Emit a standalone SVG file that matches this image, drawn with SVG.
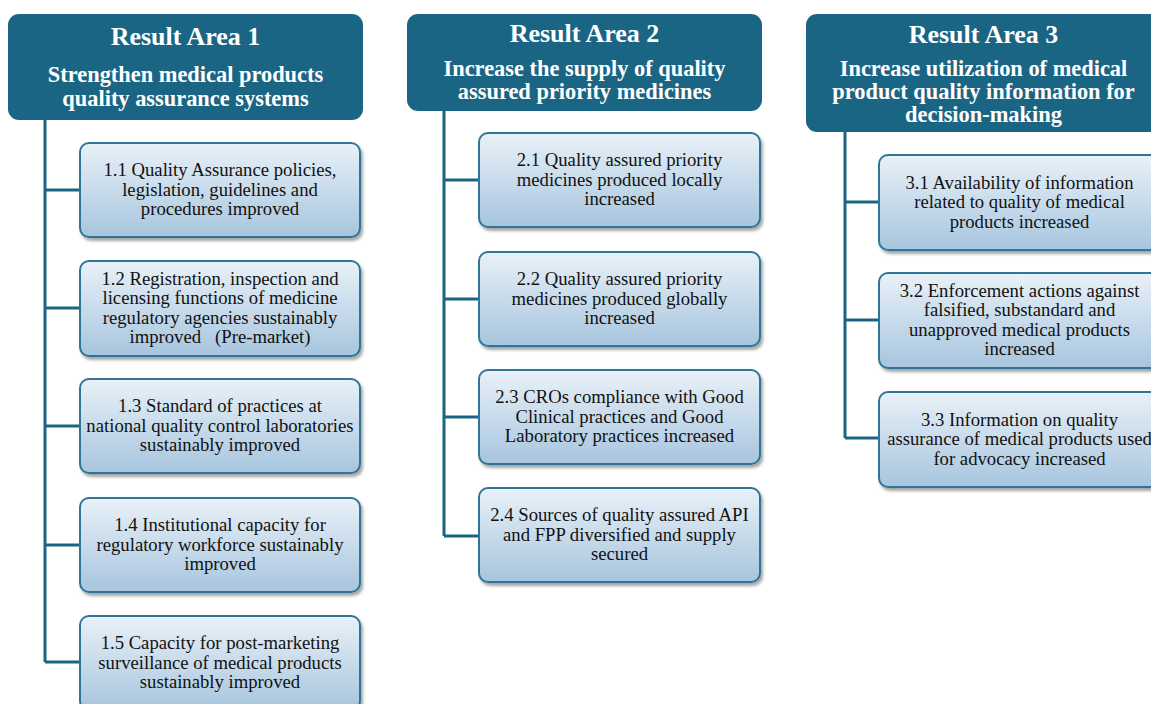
<svg xmlns="http://www.w3.org/2000/svg" width="1151" height="704" viewBox="0 0 1151 704">
<defs>
<linearGradient id="bg" x1="0" y1="0" x2="0" y2="1">
<stop offset="0" stop-color="#E9F1F8"/>
<stop offset="1" stop-color="#A7C5DE"/>
</linearGradient>
<filter id="sh" x="-5%" y="-5%" width="112%" height="120%">
<feDropShadow dx="2" dy="3" stdDeviation="1.5" flood-color="#000" flood-opacity="0.35"/>
</filter>
<style>
.hd{fill:#1B6584;}
.bx{fill:url(#bg);stroke:#2F7596;stroke-width:2;filter:url(#sh);}
.t1{font-family:"Liberation Serif",serif;font-weight:bold;font-size:26px;fill:#fff;text-anchor:middle;}
.t2{font-family:"Liberation Serif",serif;font-weight:bold;font-size:22.4px;fill:#fff;text-anchor:middle;}
.tx{font-family:"Liberation Serif",serif;font-size:18.7px;fill:#111;text-anchor:middle;}
.cn{stroke:#1B6584;stroke-width:3;fill:none;}
</style>
</defs>
<rect width="1151" height="704" fill="#fff"/>
<g id="connectors">
<path class="cn" d="M45 118V662M45 190H80M45 308H80M45 426H80M45 545H80M45 662H80"/>
<path class="cn" d="M444 109V536M444 180H479M444 299H479M444 417H479M444 536H479"/>
<path class="cn" d="M845 130V438M845 202H879M845 320H879M845 438H879"/>
</g>
<g id="ra1">
<rect class="hd" x="8" y="14" width="355" height="106" rx="11"/>
<text class="t1" x="185.5" y="45">Result Area  1</text>
<text class="t2" x="185.5" y="82">Strengthen medical products</text>
<text class="t2" x="185.5" y="106">quality assurance systems</text>
</g>
<g id="ra2">
<rect class="hd" x="407" y="14" width="355" height="97" rx="11"/>
<text class="t1" x="584.5" y="42">Result Area  2</text>
<text class="t2" x="584.5" y="76">Increase the supply of quality</text>
<text class="t2" x="584.5" y="99">assured priority medicines</text>
</g>
<g id="ra3">
<rect class="hd" x="806" y="14" width="355" height="118" rx="11"/>
<text class="t1" x="983.5" y="43">Result Area  3</text>
<text class="t2" x="983.5" y="76">Increase utilization of medical</text>
<text class="t2" x="983.5" y="99">product quality information for</text>
<text class="t2" x="983.5" y="122">decision-making</text>
</g>
<g id="n11">
<rect class="bx" x="80" y="143" width="280" height="94" rx="9"/>
<text class="tx" x="220" y="176">1.1 Quality Assurance policies,</text>
<text class="tx" x="220" y="195.5">legislation, guidelines and</text>
<text class="tx" x="220" y="215">procedures improved</text>
</g>
<g id="n12">
<rect class="bx" x="80" y="261" width="280" height="95" rx="9"/>
<text class="tx" x="220" y="284.5">1.2 Registration, inspection and</text>
<text class="tx" x="220" y="304">licensing functions of medicine</text>
<text class="tx" x="220" y="323.5">regulatory agencies sustainably</text>
<text class="tx" x="220" y="343" xml:space="preserve">improved   (Pre-market)</text>
</g>
<g id="n13">
<rect class="bx" x="80" y="379" width="280" height="94" rx="9"/>
<text class="tx" x="220" y="412">1.3 Standard of practices at</text>
<text class="tx" x="220" y="431.5">national quality control laboratories</text>
<text class="tx" x="220" y="451">sustainably improved</text>
</g>
<g id="n14">
<rect class="bx" x="80" y="498" width="280" height="94" rx="9"/>
<text class="tx" x="220" y="531">1.4 Institutional capacity  for</text>
<text class="tx" x="220" y="550.5">regulatory workforce sustainably</text>
<text class="tx" x="220" y="570">improved</text>
</g>
<g id="n15">
<rect class="bx" x="80" y="616" width="280" height="94" rx="9"/>
<text class="tx" x="220" y="649">1.5 Capacity  for post-marketing</text>
<text class="tx" x="220" y="668.5">surveillance of medical products</text>
<text class="tx" x="220" y="688">sustainably improved</text>
</g>
<g id="n21">
<rect class="bx" x="479" y="133" width="281" height="94" rx="9"/>
<text class="tx" x="619.5" y="166">2.1 Quality assured priority</text>
<text class="tx" x="619.5" y="185.5">medicines produced locally</text>
<text class="tx" x="619.5" y="205">increased</text>
</g>
<g id="n22">
<rect class="bx" x="479" y="252" width="281" height="94" rx="9"/>
<text class="tx" x="619.5" y="285">2.2 Quality assured priority</text>
<text class="tx" x="619.5" y="304.5">medicines produced globally</text>
<text class="tx" x="619.5" y="324">increased</text>
</g>
<g id="n23">
<rect class="bx" x="479" y="370" width="281" height="94" rx="9"/>
<text class="tx" x="619.5" y="403">2.3 CROs compliance with Good</text>
<text class="tx" x="619.5" y="422.5">Clinical practices and Good</text>
<text class="tx" x="619.5" y="442">Laboratory practices increased</text>
</g>
<g id="n24">
<rect class="bx" x="479" y="488" width="281" height="94" rx="9"/>
<text class="tx" x="619.5" y="521">2.4 Sources of quality assured API</text>
<text class="tx" x="619.5" y="540.5">and FPP diversified and supply</text>
<text class="tx" x="619.5" y="560">secured</text>
</g>
<g id="n31">
<rect class="bx" x="879" y="155" width="281" height="95" rx="9"/>
<text class="tx" x="1019.5" y="188.5">3.1 Availability of information</text>
<text class="tx" x="1019.5" y="208">related to quality of medical</text>
<text class="tx" x="1019.5" y="227.5">products increased</text>
</g>
<g id="n32">
<rect class="bx" x="879" y="273" width="281" height="95" rx="9"/>
<text class="tx" x="1019.5" y="296.5">3.2 Enforcement actions against</text>
<text class="tx" x="1019.5" y="316">falsified, substandard and</text>
<text class="tx" x="1019.5" y="335.5">unapproved medical products</text>
<text class="tx" x="1019.5" y="355">increased</text>
</g>
<g id="n33">
<rect class="bx" x="879" y="392" width="281" height="95" rx="9"/>
<text class="tx" x="1019.5" y="425.5">3.3 Information on quality</text>
<text class="tx" x="1019.5" y="445">assurance of medical products used</text>
<text class="tx" x="1019.5" y="464.5">for advocacy increased</text>
</g>
</svg>
